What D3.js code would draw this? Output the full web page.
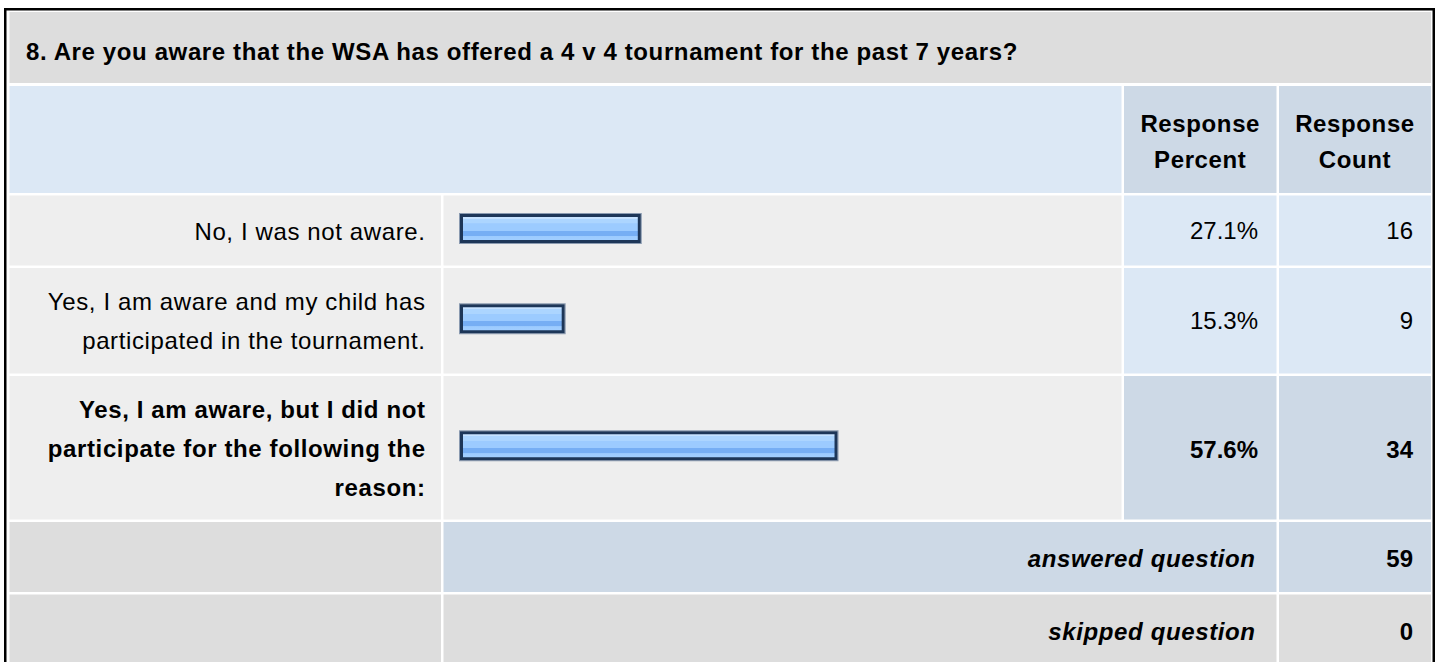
<!DOCTYPE html>
<html>
<head>
<meta charset="utf-8">
<script src="https://cdn.jsdelivr.net/npm/d3@7"></script>
<style>
  html, body { margin: 0; padding: 0; background: #fff; }
  svg { display: block; font-family: "Liberation Sans", Arial, sans-serif; }
</style>
</head>
<body>
<div id="chart"></div>
<script>
// question + answers
const title = "8. Are you aware that the WSA has offered a 4 v 4 tournament for the past 7 years?";
const colHeaders = [["Response", "Percent"], ["Response", "Count"]];
const answerLines = [
  ["No, I was not aware."],
  ["Yes, I am aware and my child has", "participated in the tournament."],
  ["Yes, I am aware, but I did not", "participate for the following the", "reason:"]
];
const percents = [27.1, 15.3, 57.6];
const counts = [16, 9, 34];
const summaryLabels = ["answered question", "skipped question"];
const summaryValues = [59, 0];

const W = 1440, H = 662;
const svg = d3.select('#chart').append('svg')
  .attr('width', W).attr('height', H);

// gradient for the bars
const defs = svg.append('defs');
const grad = defs.append('linearGradient')
  .attr('id', 'barGrad').attr('x1', 0).attr('y1', 0).attr('x2', 0).attr('y2', 1);
[[0, '#c6e2ff'], [0.13, '#c6e2ff'], [0.14, '#acd5ff'], [0.3, '#acd5ff'],
 [0.31, '#9ccbff'], [0.58, '#9ccbff'], [0.6, '#76aef4'], [0.78, '#76aef4'],
 [0.8, '#9ccbff'], [1, '#a3cfff']].forEach(s => {
  grad.append('stop').attr('offset', s[0]).attr('stop-color', s[1]);
});

// columns (left, right)
const cols = [[9.5, 441], [443.5, 1121.5], [1124, 1276.5], [1279, 1431]];
const gap = 2.5;
const rowH = { 1: 70, 2: 105.5, 3: 143.5 }; // by number of label lines

const cell = (x0, x1, y0, y1, fill) => {
  svg.append('rect')
    .attr('x', x0).attr('y', y0)
    .attr('width', x1 - x0).attr('height', y1 - y0)
    .attr('fill', fill);
};

const txt = (x, y, s, opts = {}) => {
  const ls = opts.num ? 0 : 0.62;
  svg.append('text')
    .attr('x', (opts.anchor || 'end') === 'end' ? x + ls : x)
    .attr('y', y)
    .attr('text-anchor', opts.anchor || 'end')
    .attr('font-size', 24)
    .attr('letter-spacing', ls)
    .attr('font-weight', opts.bold ? 'bold' : 'normal')
    .attr('font-style', opts.italic ? 'italic' : 'normal')
    .attr('fill', '#000')
    .text(s);
};

// outer border
svg.append('rect')
  .attr('x', 5.25).attr('y', 9.25)
  .attr('width', 1428.5).attr('height', 700)
  .attr('fill', '#fff').attr('stroke', '#000').attr('stroke-width', 2.5);

// title row
cell(cols[0][0], cols[3][1], 12, 83, '#dddddd');
txt(26, 60, title, { anchor: 'start', bold: true });

// column header row
cell(cols[0][0], cols[1][1], 86, 193, '#dce8f5');
cols.slice(2).forEach((c, i) => {
  cell(c[0], c[1], 86, 193, '#cdd9e6');
  const cx = (c[0] + c[1]) / 2;
  colHeaders[i].forEach((line, j) => txt(cx, 131.5 + j * 36, line, { anchor: 'middle', bold: true }));
});

// bar scale
const x = d3.scaleLinear().domain([0, 100]).range([6, 651]);
const maxPct = d3.max(percents);

let y = 193 + gap;
answerLines.forEach((lines, i) => {
  const h = rowH[lines.length];
  const y0 = y, y1 = y + h;
  const cy = (y0 + y1) / 2;
  const top = percents[i] === maxPct;

  cell(cols[0][0], cols[0][1], y0, y1, '#eeeeee');
  cell(cols[1][0], cols[1][1], y0, y1, '#eeeeee');
  cell(cols[2][0], cols[2][1], y0, y1, top ? '#cdd9e6' : '#dce8f5');
  cell(cols[3][0], cols[3][1], y0, y1, top ? '#cdd9e6' : '#dce8f5');

  lines.forEach((line, j) => {
    txt(425, cy + 9 + (j - (lines.length - 1) / 2) * 39, line, { bold: top });
  });

  // bar
  const bx = 460, bh = 29, by = cy - 2 - bh / 2;
  svg.append('rect')
    .attr('x', bx - 0.5).attr('y', by - 0.5)
    .attr('width', x(percents[i]) + 1).attr('height', bh + 1)
    .attr('fill', 'none').attr('stroke', '#8a9ab0').attr('stroke-width', 1);
  svg.append('rect')
    .attr('x', bx + 1.5).attr('y', by + 1.5)
    .attr('width', x(percents[i]) - 3).attr('height', bh - 3)
    .attr('fill', 'url(#barGrad)')
    .attr('stroke', '#1d3658').attr('stroke-width', 3);

  txt(1258, cy + (top ? 10 : 8), d3.format('.1f')(percents[i]) + '%', { bold: top, num: true });
  txt(1413, cy + (top ? 10 : 8), counts[i], { bold: top, num: true });

  y = y1 + gap;
});

// summary rows
summaryLabels.forEach((lab, i) => {
  const h = 70;
  const y0 = y, y1 = y + h, cy = (y0 + y1) / 2;
  const fill = i === 0 ? '#cdd9e6' : '#dddddd';
  cell(cols[0][0], cols[0][1], y0, y1, '#dddddd');
  cell(cols[1][0], cols[2][1], y0, y1, fill);
  cell(cols[3][0], cols[3][1], y0, y1, fill);
  txt(1255, cy + 10, lab, { bold: true, italic: true });
  txt(1413, cy + 10, summaryValues[i], { bold: true, num: true });
  y = y1 + gap;
});
</script>
</body>
</html>
